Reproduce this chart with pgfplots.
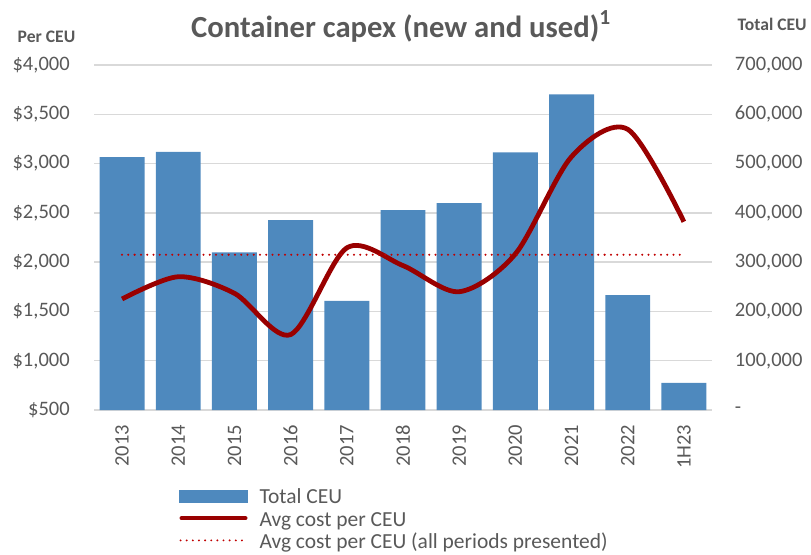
\documentclass[border=0pt]{standalone}
\usepackage{fontspec}
\setmainfont{Carlito}
\usepackage{pgfplots}
\pgfplotsset{compat=1.18}
\definecolor{barcol}{HTML}{4E89BE}
\definecolor{linecol}{HTML}{990000}
\definecolor{dotcol}{HTML}{C00000}
\definecolor{txt}{HTML}{595959}
\definecolor{gridc}{HTML}{D9D9D9}
\begin{document}
\begin{tikzpicture}
\path[use as bounding box] (-70.5pt,-108pt) rectangle (537.75pt,307.5pt);
\pgfplotsset{
  base/.style={
    width=463.5pt, height=258.75pt, scale only axis,
    xmin=-0.5, xmax=10.5,
    ticklabel style={font=\fontsize{15.4}{18}\selectfont, text=txt},
    tick style={draw=none},
    axis line style={draw=none},
    scaled y ticks=false,
    clip=false,
  }
}
% Bars on the right axis
\begin{axis}[base,
  ymin=0, ymax=700000,
  axis y line*=right,
  xtick=\empty,
  ytick={0,100000,200000,300000,400000,500000,600000,700000},
  yticklabels={-,{100,000},{200,000},{300,000},{400,000},{500,000},{600,000},{700,000}},
  yticklabel style={anchor=west, inner sep=0pt},
  yticklabel shift=17pt,
  ymajorgrids, grid style={gridc, line width=1.1pt},
]
\addplot[ybar, bar width=0.8, fill=barcol, draw=none] coordinates {
  (0,513300) (1,523500) (2,320000) (3,385500) (4,221200) (5,405800)
  (6,420000) (7,522900) (8,640600) (9,233300) (10,54800)
};
\end{axis}
% Lines on the left axis
\begin{axis}[base,
  ymin=500, ymax=4000,
  axis y line*=left, axis x line*=bottom,
  ytick={500,1000,1500,2000,2500,3000,3500,4000},
  yticklabels={\$500,{\$1,000},{\$1,500},{\$2,000},{\$2,500},{\$3,000},{\$3,500},{\$4,000}},
  yticklabel style={anchor=east, inner sep=0pt},
  yticklabel shift=18pt,
  xtick={0,1,2,3,4,5,6,7,8,9,10},
  xticklabels={2013,2014,2015,2016,2017,2018,2019,2020,2021,2022,1H23},
  xticklabel style={rotate=90, anchor=east, inner sep=0pt},
  xticklabel shift=11pt,
  legend cell align=left,
  legend style={at={(0.1375,-0.2290)}, anchor=north west, draw=none, fill=none,
    font=\fontsize{16.1}{18}\selectfont, text=txt, inner sep=0pt,
    row sep=2.2pt, column sep=8.25pt,
    nodes={inner sep=0pt, text height=11pt, text depth=3.5pt}},
]
\addlegendimage{legend image code/.code={\fill[barcol] (0pt,-2.2pt) rectangle (51pt,6.8pt);}}
\addlegendentry{Total CEU}
\addplot[linecol, line width=3.6pt, smooth, tension=0.5,
  legend image code/.code={\draw[linecol, line width=3.5pt, line cap=round] (1.75pt,2.3pt) -- (49.25pt,2.3pt);}]
  coordinates {
  (0,1626) (1,1852) (2,1684) (3,1265) (4,2145) (5,1965)
  (6,1700) (7,2083) (8,3070) (9,3348) (10,2410)
};
\addlegendentry{Avg cost per CEU}
\addplot[dotcol, line width=1.7pt, line cap=round, dash pattern=on 0pt off 4.7pt,
  legend image code/.code={\draw[dotcol, line width=1.6pt, line cap=round, dash pattern=on 0pt off 4.6pt] (0.8pt,2.3pt) -- (51pt,2.3pt);}]
  coordinates {(0,2075) (10,2075)};
\addlegendentry{Avg cost per CEU (all periods presented)}
\node[anchor=base, font=\bfseries\fontsize{23}{27}\selectfont, text=txt, yshift=21pt]
  at (rel axis cs:0.4968,1) {Container capex (new and used)\textsuperscript{1}};
\node[anchor=base west, font=\bfseries\fontsize{13.2}{16}\selectfont, text=txt, xshift=-60.75pt, yshift=16.7pt]
  at (rel axis cs:0,1) {Per CEU};
\node[anchor=base west, font=\bfseries\fontsize{13.2}{16}\selectfont, text=txt, xshift=15.75pt, yshift=26.25pt]
  at (rel axis cs:1,1) {Total CEU};
\end{axis}
\end{tikzpicture}
\end{document}
